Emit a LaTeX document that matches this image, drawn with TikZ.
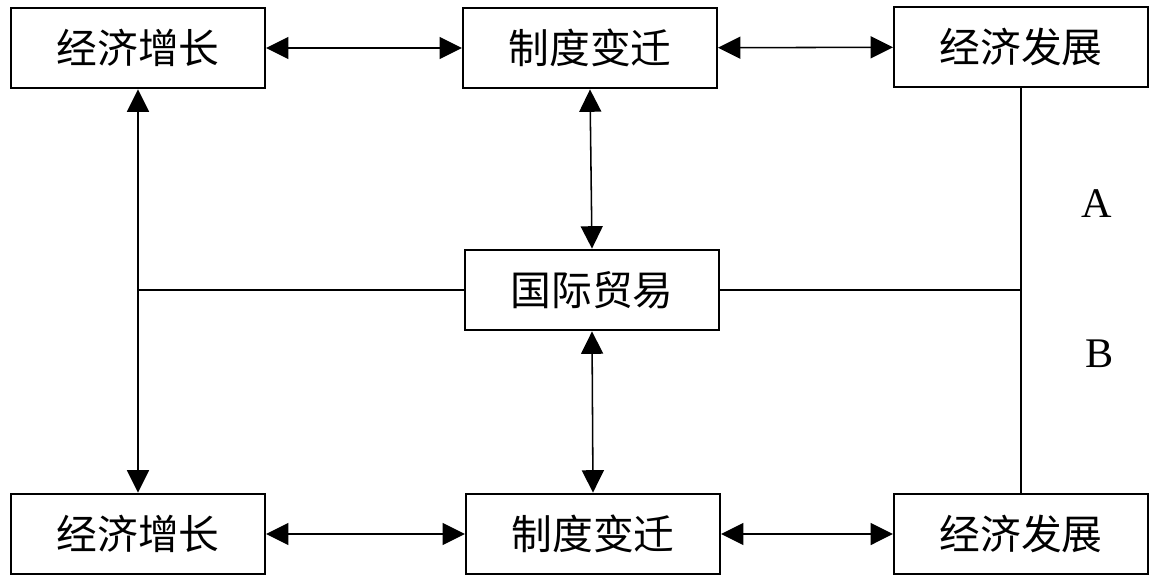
\documentclass[tikz,border=0pt]{standalone}
\usepackage{fontspec}
\setmainfont{Liberation Serif}
\newfontfamily\cjk{Noto Sans CJK SC}
\usetikzlibrary{arrows.meta}
\tikzset{
  box/.style={draw, line width=1.4pt, minimum width=6.35cm, minimum height=2.02cm,
    inner sep=0pt, font=\cjk\fontsize{29}{34}\selectfont},
  link/.style={line width=1.1pt, {Triangle[length=0.56cm,width=0.55cm]}-{Triangle[length=0.56cm,width=0.55cm]}},
  plain/.style={line width=1.1pt}
}
\begin{document}
\begin{tikzpicture}[x=0.025cm, y=-0.025cm]
    \useasboundingbox (0,0) rectangle (1158,586);
    % top row
    \node[box] (g1) at (138,48) {经济增长};
    \node[box] (z1) at (590,48) {制度变迁};
    \node[box] (f1) at (1021,47) {经济发展};
    % middle
    \node[box] (m) at (592,290) {国际贸易};
    % bottom row
    \node[box] (g2) at (138,534) {经济增长};
    \node[box] (z2) at (593,534) {制度变迁};
    \node[box] (f2) at (1021,534) {经济发展};
    % horizontal links
    \draw[link] (g1) -- (z1);
    \draw[link] (z1) -- (f1);
    \draw[link] (g2) -- (z2);
    \draw[link] (z2) -- (f2);
    % vertical links
    \draw[link] (g1.south) -- (g2.north);
    \draw[link] (z1.south) -- (m.north);
    \draw[link] (m.south) -- (z2.north);
    \draw[plain] (f1.south) -- (f2.north);
    % trade to the sides
    \coordinate (jl) at (g1.south |- m.west);
    \coordinate (jr) at (f1.south |- m.east);
    \draw[plain] (m.west) -- (jl);
    \draw[plain] (m.east) -- (jr);
    \node[font=\fontsize{30}{34}\selectfont] (la) at (1097,204) {A};
    \node[font=\fontsize{30}{34}\selectfont] (lb) at (1100,354) {B};
\end{tikzpicture}
\end{document}
